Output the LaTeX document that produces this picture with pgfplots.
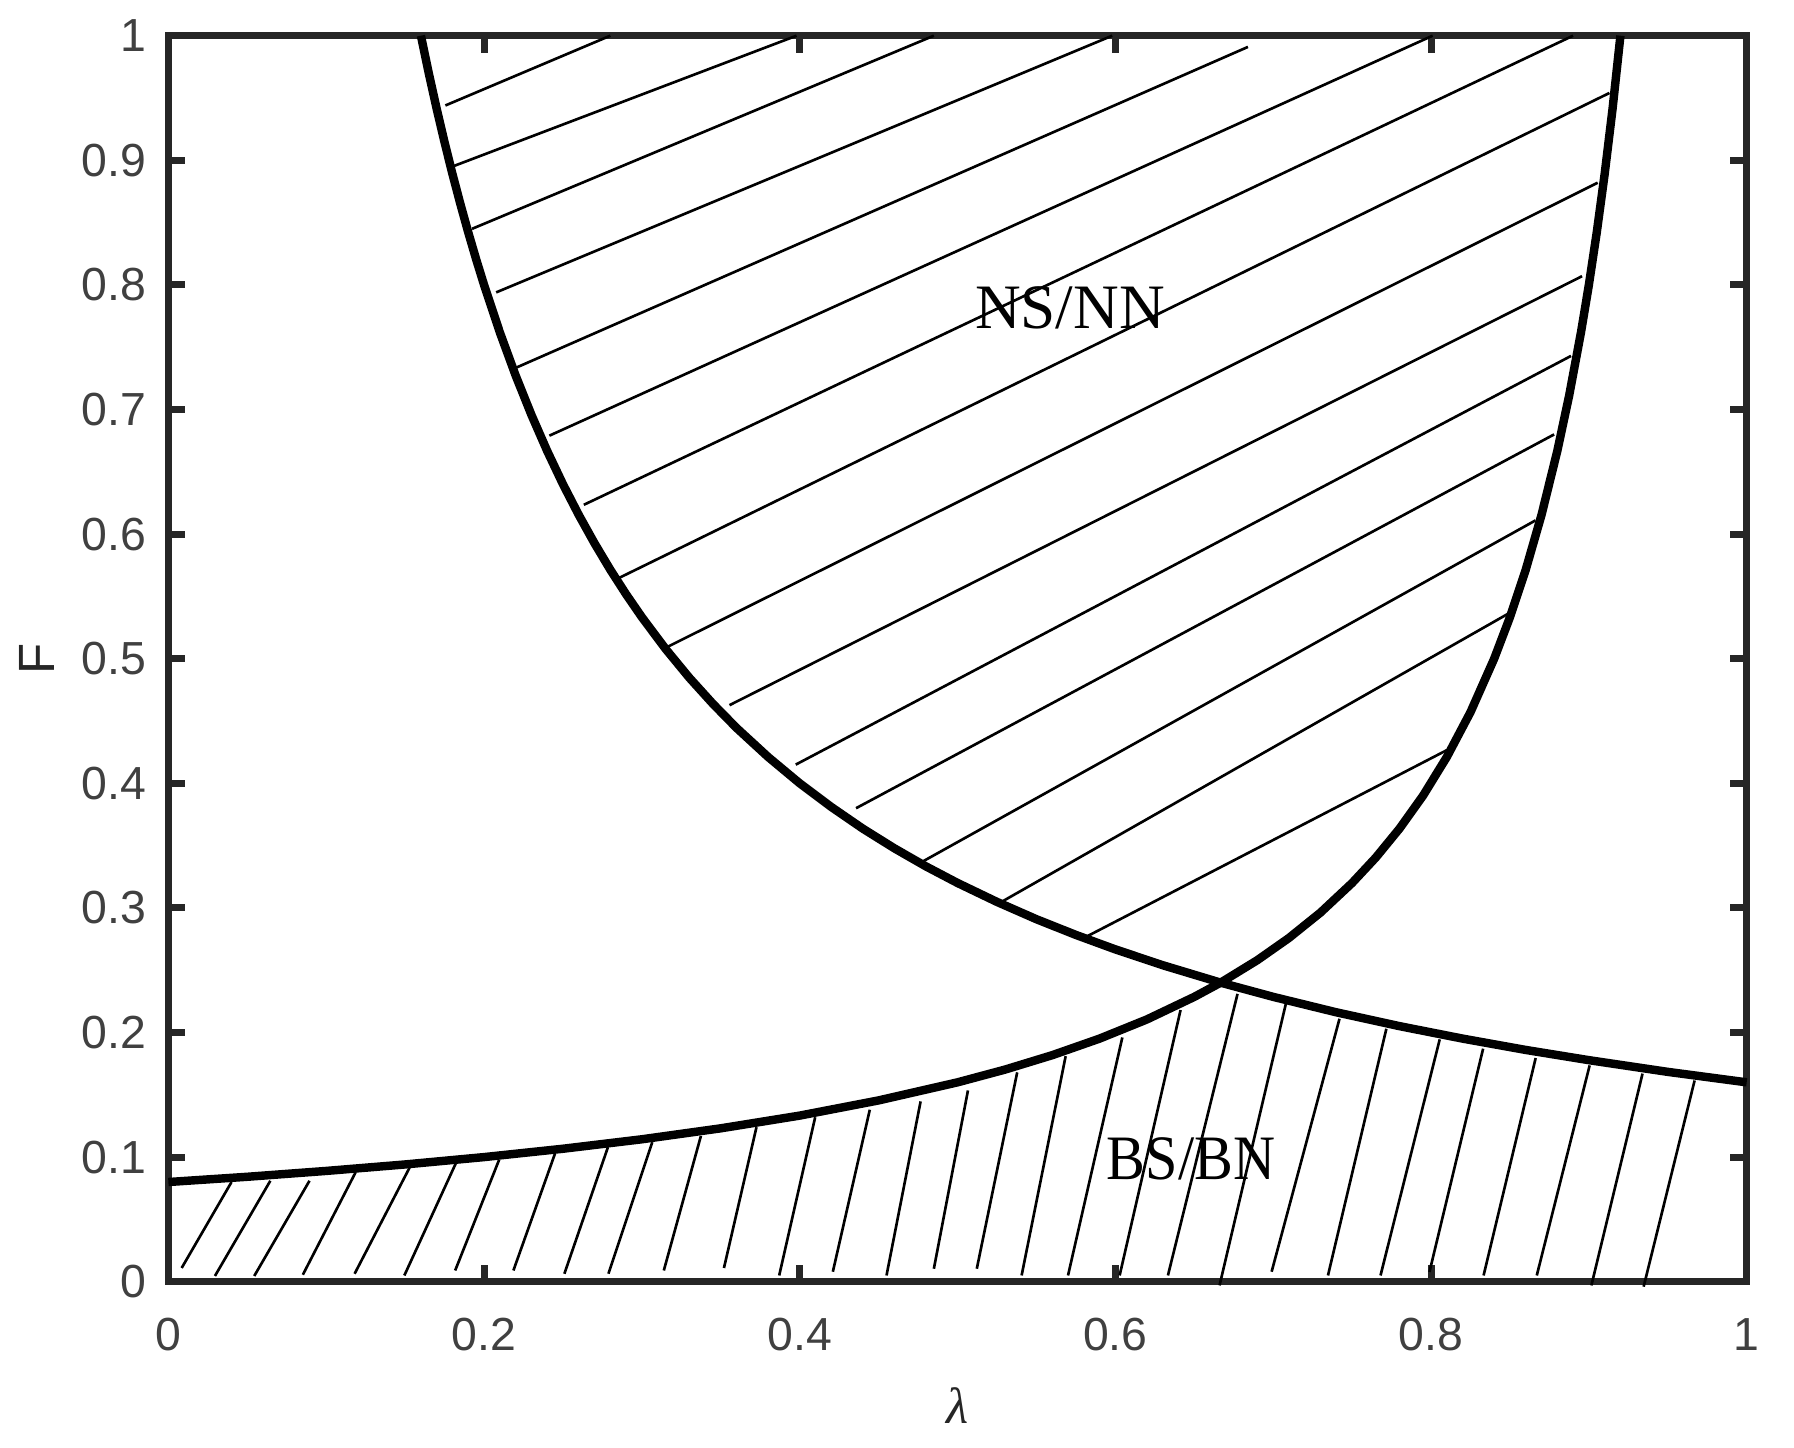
\documentclass[border=0pt]{standalone}
\usepackage{fontspec}
\setmainfont{Liberation Serif}
\newfontfamily\ticksf{Liberation Sans}
\usepackage{pgfplots}
\pgfplotsset{compat=1.18}
\definecolor{axisgray}{HTML}{262626}
\definecolor{tickgray}{HTML}{404040}
\begin{document}
\begin{tikzpicture}
\begin{axis}[
  at={(0,0)}, anchor=south west,
  scale only axis, width=15.783cm, height=12.46cm,
  xmin=0, xmax=1, ymin=0, ymax=1,
  clip=false,
  xtick={0,0.2,0.4,0.6,0.8,1},
  ytick={0,0.1,0.2,0.3,0.4,0.5,0.6,0.7,0.8,0.9,1},
  tick align=inside,
  major tick length=0.17cm,
  axis line style={line width=2.1pt, color=axisgray},
  every tick/.style={line width=2pt, color=axisgray},
  /pgf/number format/assume math mode=true,
  tick label style={font=\ticksf\fontsize{13.2}{15}\selectfont, text=tickgray},
  xticklabel style={anchor=north, inner sep=0pt, yshift=-0.36cm},
  yticklabel style={anchor=east, inner sep=0pt, xshift=-0.214cm},
  xlabel={\itshape λ},
  ylabel={F},
  every axis x label/.style={at={(axis description cs:0.5003,0)}, anchor=center, yshift=-1.24cm, font=\fontsize{14.5}{16}\selectfont, text=axisgray},
  every axis y label/.style={at={(axis description cs:0,0.5)}, anchor=center, rotate=90, yshift=1.317cm, font=\ticksf\fontsize{14.5}{16}\selectfont, text=axisgray},
]
% ---- hatch lines, lower region (BS/BN)
\pgfplotsset{hatch/.style={black, line width=0.75pt, line cap=butt, forget plot}}
\addplot[hatch] coordinates {(0.0084,0.011) (0.040,0.080)};
\addplot[hatch] coordinates {(0.0295,0.0046) (0.0646,0.081)};
\addplot[hatch] coordinates {(0.0544,0.0046) (0.0894,0.081)};
\addplot[hatch] coordinates {(0.0852,0.0056) (0.1187,0.088)};
\addplot[hatch] coordinates {(0.118,0.0064) (0.153,0.092)};
\addplot[hatch] coordinates {(0.1495,0.005) (0.182,0.0947)};
\addplot[hatch] coordinates {(0.1817,0.009) (0.2096,0.098)};
\addplot[hatch] coordinates {(0.2186,0.009) (0.245,0.103)};
\addplot[hatch] coordinates {(0.2509,0.0064) (0.2785,0.108)};
\addplot[hatch] coordinates {(0.2788,0.0064) (0.3066,0.112)};
\addplot[hatch] coordinates {(0.3139,0.009) (0.3374,0.117)};
\addplot[hatch] coordinates {(0.352,0.011) (0.3726,0.124)};
\addplot[hatch] coordinates {(0.387,0.005) (0.4098,0.132)};
\addplot[hatch] coordinates {(0.421,0.008) (0.4444,0.138)};
\addplot[hatch] coordinates {(0.455,0.005) (0.4766,0.1447)};
\addplot[hatch] coordinates {(0.485,0.0104) (0.5066,0.1535)};
\addplot[hatch] coordinates {(0.5122,0.0104) (0.5378,0.168)};
\addplot[hatch] coordinates {(0.5406,0.005) (0.5685,0.181)};
\addplot[hatch] coordinates {(0.570,0.005) (0.6044,0.196)};
\addplot[hatch] coordinates {(0.6027,0.005) (0.6413,0.218)};
\addplot[hatch] coordinates {(0.6333,0.005) (0.6774,0.231)};
\addplot[hatch] coordinates {(0.666,-0.003) (0.708,0.223)};
\addplot[hatch] coordinates {(0.699,0.008) (0.742,0.211)};
\addplot[hatch] coordinates {(0.7347,0.005) (0.7717,0.203)};
\addplot[hatch] coordinates {(0.768,0.005) (0.8055,0.1945)};
\addplot[hatch] coordinates {(0.799,0.0078) (0.833,0.187)};
\addplot[hatch] coordinates {(0.8333,0.005) (0.8663,0.1795)};
\addplot[hatch] coordinates {(0.867,0.005) (0.9005,0.1736)};
\addplot[hatch] coordinates {(0.9016,-0.003) (0.934,0.167)};
\addplot[hatch] coordinates {(0.9347,-0.004) (0.967,0.1615)};
% ---- hatch lines, upper region (NS/NN)
\addplot[hatch] coordinates {(0.1755,0.944) (0.28,1.0)};
\addplot[hatch] coordinates {(0.180,0.895) (0.398,1.0)};
\addplot[hatch] coordinates {(0.1924,0.845) (0.485,1.0)};
\addplot[hatch] coordinates {(0.2077,0.794) (0.598,1.0)};
\addplot[hatch] coordinates {(0.2193,0.733) (0.684,0.991)};
\addplot[hatch] coordinates {(0.2414,0.679) (0.801,1.0)};
\addplot[hatch] coordinates {(0.2632,0.6235) (0.890,1.0)};
\addplot[hatch] coordinates {(0.2847,0.5643) (0.913,0.954)};
\addplot[hatch] coordinates {(0.3164,0.5096) (0.9056,0.882)};
\addplot[hatch] coordinates {(0.3555,0.4627) (0.8957,0.807)};
\addplot[hatch] coordinates {(0.3975,0.415) (0.8887,0.743)};
\addplot[hatch] coordinates {(0.4357,0.380) (0.878,0.680)};
\addplot[hatch] coordinates {(0.4776,0.337) (0.8662,0.611)};
\addplot[hatch] coordinates {(0.5277,0.3047) (0.8487,0.536)};
\addplot[hatch] coordinates {(0.5824,0.2774) (0.8097,0.4264)};
% ---- boundary curves
\addplot[black, line width=2.4pt, line join=round] coordinates {
 (0.1600,1.0000) (0.1650,0.9697) (0.1700,0.9412) (0.1750,0.9143) (0.1800,0.8889)
 (0.1850,0.8649) (0.1900,0.8421) (0.1950,0.8205) (0.2000,0.8000) (0.2100,0.7619)
 (0.2200,0.7273) (0.2300,0.6957) (0.2400,0.6667) (0.2500,0.6400) (0.2600,0.6154)
 (0.2700,0.5926) (0.2800,0.5714) (0.2900,0.5517) (0.3000,0.5333) (0.3150,0.5079)
 (0.3300,0.4848) (0.3450,0.4638) (0.3600,0.4444) (0.3800,0.4211) (0.4000,0.4000)
 (0.4200,0.3810) (0.4400,0.3636) (0.4600,0.3478) (0.4800,0.3333) (0.5000,0.3200)
 (0.5250,0.3048) (0.5500,0.2909) (0.5750,0.2783) (0.6000,0.2667) (0.6300,0.2540)
 (0.6667,0.2400) (0.7000,0.2286) (0.7400,0.2162) (0.7800,0.2051) (0.8200,0.1951)
 (0.8600,0.1860) (0.9000,0.1778) (0.9500,0.1684) (1.0000,0.1600)};
\addplot[black, line width=2.4pt, line join=round] coordinates {
 (0.0000,0.0800) (0.0500,0.0842) (0.1000,0.0889) (0.1500,0.0941) (0.2000,0.1000)
 (0.2500,0.1067) (0.3000,0.1143) (0.3500,0.1231) (0.4000,0.1333) (0.4500,0.1455)
 (0.5000,0.1600) (0.5300,0.1702) (0.5600,0.1818) (0.5900,0.1951) (0.6200,0.2105)
 (0.6500,0.2286) (0.6667,0.2400) (0.6900,0.2581) (0.7100,0.2759) (0.7300,0.2963)
 (0.7500,0.3200) (0.7650,0.3404) (0.7800,0.3636) (0.7950,0.3902) (0.8100,0.4211)
 (0.8250,0.4571) (0.8400,0.5000) (0.8500,0.5333) (0.8600,0.5714) (0.8700,0.6154)
 (0.8800,0.6667) (0.8875,0.7111) (0.8950,0.7619) (0.9000,0.8000) (0.9050,0.8421)
 (0.9100,0.8889) (0.9150,0.9412) (0.9200,1.0000)};
% ---- region labels
\node[anchor=base, inner sep=0pt, font=\fontsize{18}{20}\selectfont] at (axis cs:0.5712,0.7652) {NS/NN};
\node[anchor=base, inner sep=0pt, font=\fontsize{18}{20}\selectfont] at (axis cs:0.6479,0.0822) {\scalebox{0.92}[1]{BS/BN}};
\end{axis}
\pgfresetboundingbox
\useasboundingbox (-1.684cm,-1.663cm) rectangle (16.256cm,12.817cm);
\end{tikzpicture}
\end{document}
